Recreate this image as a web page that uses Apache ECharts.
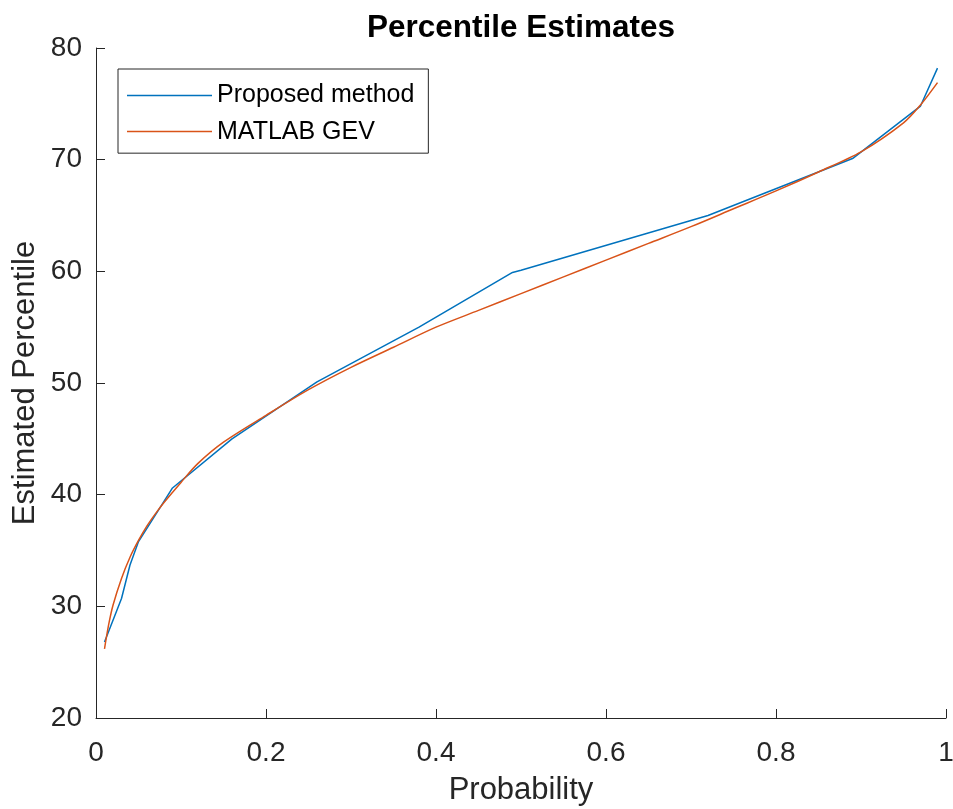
<html>
<head>
    <script src="https://cdn.jsdelivr.net/npm/echarts@6/dist/echarts.min.js"></script>
    <style>
        body { margin: 0; background: #fff; }
        #chart { width: 953px; height: 809px; }
    </style>
</head>
<body>
    <div id="chart"></div>
    <script>
        // proposed method (piecewise)
        var propP = [0.01, 0.03, 0.04, 0.05, 0.08, 0.09, 0.16, 0.26, 0.38, 0.49, 0.50, 0.72, 0.89, 0.97, 0.99];
        var propV = [26.8, 30.7, 33.7, 35.8, 39.4, 40.6, 45.0, 50.1, 55.0, 59.9, 60.1, 65.0, 70.1, 74.8, 78.2];

        // MATLAB GEV fit
        var gevP = [0.01, 0.015, 0.02, 0.03, 0.04, 0.05, 0.06, 0.07, 0.08, 0.10, 0.12, 0.15, 0.20, 0.25, 0.30, 0.35, 0.40, 0.45, 0.50, 0.55, 0.60, 0.65, 0.70, 0.75, 0.80, 0.85, 0.90, 0.95, 0.97, 0.99];
        var gevV = [26.2, 28.4, 30.1, 32.5, 34.4, 35.9, 37.2, 38.3, 39.3, 41.1, 42.8, 44.7, 47.1, 49.4, 51.4, 53.2, 55.0, 56.5, 58.0, 59.5, 61.0, 62.5, 64.0, 65.6, 67.2, 68.9, 70.7, 73.3, 74.9, 76.9];

        var xTicks = [0, 0.2, 0.4, 0.6, 0.8, 1];
        var yTicks = [20, 30, 40, 50, 60, 70, 80];

        function pairs(a, b) {
            return a.map(function (v, i) { return [v, b[i]]; });
        }

        var txt = '#262626';
        var font = 'Liberation Sans, Arial, Helvetica, sans-serif';

        var chart = echarts.init(document.getElementById('chart'));
        var option = {
            animation: false,
            title: {
                text: 'Percentile Estimates',
                left: 516,
                textAlign: 'center',
                top: -4,
                textStyle: { color: '#000', fontWeight: 'bold', fontSize: 31.5, fontFamily: font }
            },
            legend: {
                orient: 'vertical',
                left: 118,
                top: 69,
                padding: [5, 14, 0, 9],
                icon: 'rect',
                itemWidth: 85,
                itemHeight: 1.5,
                itemGap: -7,
                borderColor: txt,
                borderWidth: 1,
                backgroundColor: '#fff',
                textStyle: { color: '#000', fontSize: 25, lineHeight: 24, fontFamily: font },
                data: ['Proposed method', 'MATLAB GEV']
            },
            grid: { left: 96, right: 7, top: 48, bottom: 91, containLabel: false, outerBoundsMode: 'none' },
            xAxis: {
                type: 'value',
                min: 0,
                max: 1,
                interval: 0.2,
                name: 'Probability',
                nameLocation: 'middle',
                nameGap: 46,
                nameMoveOverlap: false,
                nameTextStyle: { color: txt, fontSize: 31, fontFamily: font },
                axisLine: { lineStyle: { color: txt, width: 1 } },
                axisTick: { inside: true, length: 9, lineStyle: { color: txt } },
                axisLabel: {
                    color: txt, fontSize: 28, fontFamily: font, margin: 11,
                    formatter: function (v) { return xTicks.indexOf(v) >= 0 ? String(v) : ''; }
                },
                splitLine: { show: false }
            },
            yAxis: {
                type: 'value',
                min: 20,
                max: 80,
                interval: 10,
                name: 'Estimated Percentile',
                nameLocation: 'middle',
                nameGap: 44,
                nameMoveOverlap: false,
                nameTextStyle: { color: txt, fontSize: 31, fontFamily: font },
                axisLine: { show: true, lineStyle: { color: txt, width: 1 } },
                axisTick: { show: true, inside: true, length: 9, lineStyle: { color: txt } },
                axisLabel: {
                    color: txt, fontSize: 28, fontFamily: font, margin: 14,
                    formatter: function (v) { return yTicks.indexOf(v) >= 0 ? String(v) : ''; }
                },
                splitLine: { show: false }
            },
            series: [
                {
                    name: 'Proposed method',
                    type: 'line',
                    symbol: 'none',
                    data: pairs(propP, propV),
                    itemStyle: { color: '#0072BD' },
                    lineStyle: { color: '#0072BD', width: 1.5 }
                },
                {
                    name: 'MATLAB GEV',
                    type: 'line',
                    symbol: 'none',
                    smooth: 0.3,
                    data: pairs(gevP, gevV),
                    itemStyle: { color: '#D95319' },
                    lineStyle: { color: '#D95319', width: 1.5 }
                }
            ]
        };
        chart.setOption(option);
    </script>
</body>
</html>
